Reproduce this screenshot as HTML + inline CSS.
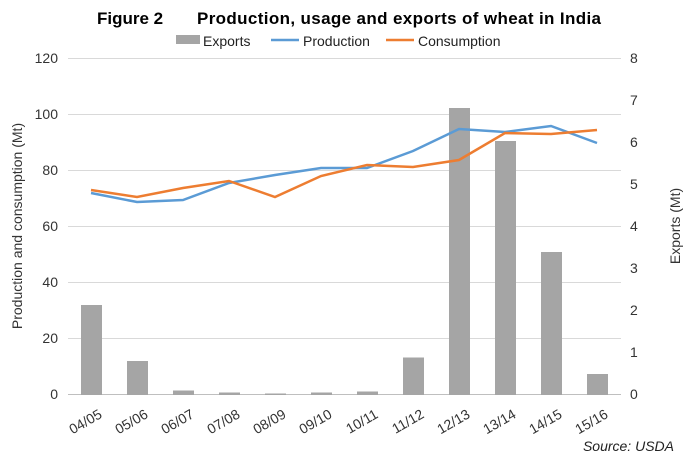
<!DOCTYPE html>
<html><head><style>body{margin:0;background:#fff}</style></head><body>
<svg width="693" height="465" xmlns="http://www.w3.org/2000/svg" font-family="Liberation Sans, Arial, sans-serif">
<rect width="693" height="465" fill="#fff"/>
<text x="97" y="24" font-size="17" font-weight="bold" fill="#000">Figure 2</text>
<text x="197" y="24" textLength="404" lengthAdjust="spacing" font-size="17" font-weight="bold" fill="#000">Production, usage and exports of wheat in India</text>
<rect x="176" y="35" width="24" height="9" fill="#a5a5a5"/>
<text x="203" y="46" font-size="14" fill="#222">Exports</text>
<line x1="271" y1="40" x2="299" y2="40" stroke="#5b9bd5" stroke-width="2.5"/>
<text x="303" y="46" font-size="14" fill="#222">Production</text>
<line x1="386" y1="40" x2="414" y2="40" stroke="#ed7d31" stroke-width="2.5"/>
<text x="418" y="46" font-size="14" fill="#222">Consumption</text>
<g stroke="#d9d9d9" stroke-width="1">
<line x1="68" y1="58.5" x2="621" y2="58.5"/><line x1="68" y1="114.5" x2="621" y2="114.5"/>
<line x1="68" y1="170.5" x2="621" y2="170.5"/><line x1="68" y1="226.5" x2="621" y2="226.5"/>
<line x1="68" y1="282.5" x2="621" y2="282.5"/><line x1="68" y1="338.5" x2="621" y2="338.5"/>
</g>
<line x1="68" y1="394.5" x2="621" y2="394.5" stroke="#bfbfbf"/>
<g font-size="14" fill="#333" text-anchor="end">
<text x="58" y="63">120</text><text x="58" y="119">100</text><text x="58" y="175">80</text>
<text x="58" y="231">60</text><text x="58" y="287">40</text><text x="58" y="343">20</text><text x="58" y="399">0</text>
</g>
<g font-size="14" fill="#333">
<text x="630" y="63">8</text><text x="630" y="105">7</text><text x="630" y="147">6</text><text x="630" y="189">5</text>
<text x="630" y="231">4</text><text x="630" y="273">3</text><text x="630" y="315">2</text><text x="630" y="357">1</text><text x="630" y="399">0</text>
</g>
<text transform="translate(22,226) rotate(-90)" text-anchor="middle" font-size="14" fill="#333">Production and consumption (Mt)</text>
<text transform="translate(680,226) rotate(-90)" text-anchor="middle" font-size="14" fill="#333">Exports (Mt)</text>
<g fill="#a5a5a5">
<rect x="81" y="305" width="21" height="90"/>
<rect x="127" y="361" width="21" height="34"/>
<rect x="173" y="390.5" width="21" height="4.5"/>
<rect x="219" y="392.5" width="21" height="2.5"/>
<rect x="265" y="393.5" width="21" height="1.5"/>
<rect x="311" y="392.5" width="21" height="2.5"/>
<rect x="357" y="391.5" width="21" height="3.5"/>
<rect x="403" y="357.5" width="21" height="37.5"/>
<rect x="449" y="108" width="21" height="287"/>
<rect x="495" y="141" width="21" height="254"/>
<rect x="541" y="252" width="21" height="143"/>
<rect x="587" y="374" width="21" height="21"/>
</g>
<polyline fill="none" stroke="#5b9bd5" stroke-width="2.5" points="91,193 137,202 183,200 229,183 275,175 321,168 367,168 413,151 459,129 505,132 551,126 597,143"/>
<polyline fill="none" stroke="#ed7d31" stroke-width="2.5" points="91,190 137,197 183,188 229,181 275,197 321,176 367,165 413,167 459,160 505,133 551,134 597,130"/>
<g font-size="14" fill="#333" text-anchor="end">
<text transform="translate(103,417) rotate(-30)">04/05</text>
<text transform="translate(149,417) rotate(-30)">05/06</text>
<text transform="translate(195,417) rotate(-30)">06/07</text>
<text transform="translate(241,417) rotate(-30)">07/08</text>
<text transform="translate(287,417) rotate(-30)">08/09</text>
<text transform="translate(333,417) rotate(-30)">09/10</text>
<text transform="translate(379,417) rotate(-30)">10/11</text>
<text transform="translate(425,417) rotate(-30)">11/12</text>
<text transform="translate(471,417) rotate(-30)">12/13</text>
<text transform="translate(517,417) rotate(-30)">13/14</text>
<text transform="translate(563,417) rotate(-30)">14/15</text>
<text transform="translate(609,417) rotate(-30)">15/16</text>
</g>
<text x="674" y="451" text-anchor="end" font-size="14" font-style="italic" fill="#222">Source: USDA</text>
</svg>
</body></html>
